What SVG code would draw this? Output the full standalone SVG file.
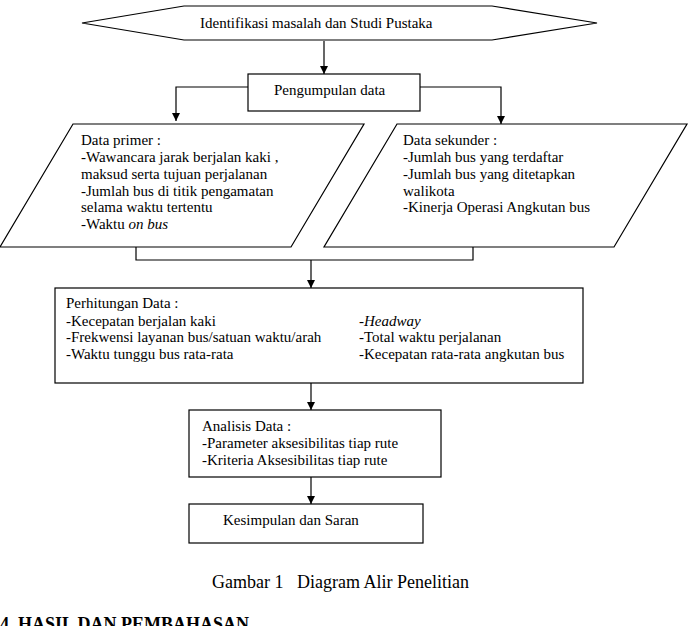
<svg xmlns="http://www.w3.org/2000/svg" width="691" height="626" viewBox="0 0 691 626">
<style>
.s{fill:#fff;stroke:#000;stroke-width:1.2}
.c{fill:none;stroke:#000;stroke-width:1.2}
text{font-family:"Liberation Serif","Times New Roman",serif;font-size:15px;fill:#000}
.cap{font-size:18px}
.h{font-size:18px;font-weight:bold}
</style>
<defs>
<marker id="a" viewBox="0 0 10 10" refX="10" refY="5" markerWidth="8" markerHeight="8" markerUnits="userSpaceOnUse" orient="auto">
<path d="M0,0 L10,5 L0,10 z" fill="#000"/>
</marker>
</defs>
<rect width="691" height="626" fill="#fff"/>
<g id="connectors">
<path class="c" d="M324,41 V74" marker-end="url(#a)"/>
<path class="c" d="M248,87 H176 V121" marker-end="url(#a)"/>
<path class="c" d="M420,87 H501 V124" marker-end="url(#a)"/>
<path class="c" d="M136,247 V260 H473 V247"/>
<path class="c" d="M311,260 V288" marker-end="url(#a)"/>
<path class="c" d="M311,383 V410" marker-end="url(#a)"/>
<path class="c" d="M311,477 V504" marker-end="url(#a)"/>
</g>
<g id="n1">
<polygon class="s" points="82,23 184,6 492,6 597,23 492,40 184,40"/>
<text x="200" y="28">Identifikasi masalah dan Studi Pustaka</text>
</g>
<g id="n2">
<rect class="s" x="248" y="74" width="172" height="37"/>
<text x="274" y="95">Pengumpulan data</text>
</g>
<g id="n3">
<polygon class="s" points="73,124 364,124 291,247 0,247"/>
<text x="81" y="145">Data primer :</text>
<text x="81" y="162">-Wawancara jarak berjalan kaki ,</text>
<text x="81" y="178.5">maksud serta tujuan perjalanan</text>
<text x="81" y="195.5">-Jumlah bus di titik pengamatan</text>
<text x="81" y="212">selama waktu tertentu</text>
<text x="81" y="229">-Waktu <tspan font-style="italic">on bus</tspan></text>
</g>
<g id="n4">
<polygon class="s" points="397,124 687,124 614,247 324,247"/>
<text x="403" y="145">Data sekunder :</text>
<text x="403" y="162">-Jumlah bus yang terdaftar</text>
<text x="403" y="178.5">-Jumlah bus yang ditetapkan</text>
<text x="403" y="195.5">walikota</text>
<text x="403" y="212">-Kinerja Operasi Angkutan bus</text>
</g>
<g id="n5">
<rect class="s" x="55" y="288" width="528" height="95"/>
<text x="66" y="308">Perhitungan Data :</text>
<text x="66" y="325.5">-Kecepatan berjalan kaki</text>
<text x="66" y="342">-Frekwensi layanan bus/satuan waktu/arah</text>
<text x="66" y="359">-Waktu tunggu bus rata-rata</text>
<text x="359" y="325.5">-<tspan font-style="italic">Headway</tspan></text>
<text x="359" y="342">-Total waktu perjalanan</text>
<text x="359" y="359">-Kecepatan rata-rata angkutan bus</text>
</g>
<g id="n6">
<rect class="s" x="189" y="410" width="252" height="67"/>
<text x="202" y="431">Analisis Data :</text>
<text x="202" y="448">-Parameter aksesibilitas tiap rute</text>
<text x="202" y="465">-Kriteria Aksesibilitas tiap rute</text>
</g>
<g id="n7">
<rect class="s" x="189" y="504" width="234" height="39"/>
<text x="223" y="525">Kesimpulan dan Saran</text>
</g>
<text class="cap" x="212" y="588" xml:space="preserve">Gambar 1   Diagram Alir Penelitian</text>
<text class="h" x="0" y="630">4. HASIL DAN PEMBAHASAN</text>
</svg>
